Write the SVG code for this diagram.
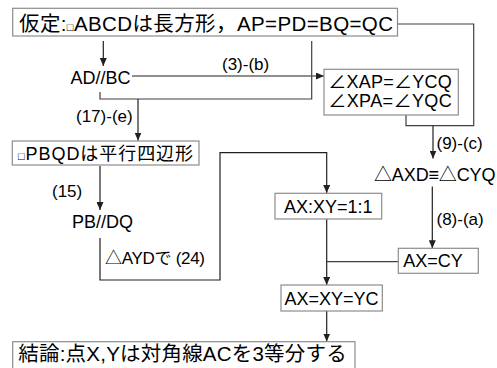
<svg xmlns="http://www.w3.org/2000/svg" width="497" height="368" viewBox="0 0 497 368">
<defs>
<marker id="ah" markerUnits="userSpaceOnUse" markerWidth="8" markerHeight="7" refX="8" refY="3.5" orient="auto">
<path d="M0,0 L8,3.5 L0,7 z" fill="#202020"/>
</marker>
<style>
text{font-family:"Liberation Sans","Noto Sans CJK JP",sans-serif;font-size:18px;fill:#000}
.lbl{font-size:17px}
.big{font-size:20.5px}
.box{fill:#fff;stroke:#8c8c8c;stroke-width:1.2}
.ln{fill:none;stroke:#404040;stroke-width:1.2}
.ar{fill:none;stroke:#202020;stroke-width:1.2;marker-end:url(#ah)}
.sq{font-size:11px}
</style>
</defs>
<rect width="497" height="368" fill="#fff"/>
<g id="connectors">
<polyline class="ln" points="397.5,24 473.7,24 473.7,125.7 406,125.7 406,115"/>
<line class="ar" x1="433" y1="125.7" x2="433" y2="158.5"/>
<line class="ar" x1="103.3" y1="41" x2="103.3" y2="66"/>
<line class="ar" x1="132" y1="76" x2="324" y2="76"/>
<polyline class="ln" points="311.7,41 311.7,99 100,99 100,92"/>
<line class="ar" x1="138" y1="99" x2="138" y2="140.5"/>
<line class="ar" x1="100" y1="166" x2="100" y2="210"/>
<polyline class="ar" points="100,238 100,280 220,280 220,152.7 326.7,152.7 326.7,193"/>
<line class="ar" x1="326.7" y1="219" x2="326.7" y2="285"/>
<line class="ln" x1="398.3" y1="261.7" x2="326.7" y2="261.7"/>
<line class="ar" x1="432.3" y1="186.5" x2="432.3" y2="248.3"/>
<line class="ar" x1="326.7" y1="311" x2="326.7" y2="341.5"/>
<text class="lbl" x="222" y="70">(3)-(b)</text>
<text class="lbl" x="76" y="122">(17)-(e)</text>
<text class="lbl" x="52" y="197">(15)</text>
<text class="lbl" x="105" y="264" textLength="100">△AYDで (24)</text>
<text class="lbl" x="436.5" y="149">(9)-(c)</text>
<text class="lbl" x="436.5" y="225">(8)-(a)</text>
</g>
<g id="n-assumption">
<rect class="box" x="12.7" y="8.3" width="384.8" height="27.7"/>
<text class="big" x="19" y="30.5" textLength="374">仮定:<tspan class="sq">□</tspan>ABCDは長方形，AP=PD=BQ=QC</text>
</g>
<g id="n-adbc">
<text x="70.5" y="84.3">AD//BC</text>
</g>
<g id="n-angles">
<rect class="box" x="324" y="69.3" width="134.3" height="45.7"/>
<text x="328.3" y="88" textLength="123.4">∠XAP=∠YCQ</text>
<text x="328.3" y="107" textLength="123.4">∠XPA=∠YQC</text>
</g>
<g id="n-pbqd">
<rect class="box" x="12.3" y="141" width="186.7" height="24"/>
<text x="18" y="160" textLength="175"><tspan class="sq">□</tspan>PBQDは平行四辺形</text>
</g>
<g id="n-pbdq">
<text x="72" y="228.3">PB//DQ</text>
</g>
<g id="n-congruent">
<text x="374" y="180.7" textLength="121.5">△AXD≡△CYQ</text>
</g>
<g id="n-ratio">
<rect class="box" x="275" y="193.3" width="106.7" height="25.7"/>
<text x="328.3" y="212.5" text-anchor="middle">AX:XY=1:1</text>
</g>
<g id="n-axcy">
<rect class="box" x="398.3" y="248.3" width="80" height="25"/>
<text x="403.3" y="267">AX=CY</text>
</g>
<g id="n-axxy">
<rect class="box" x="281" y="285" width="101.3" height="26"/>
<text x="331.6" y="304.5" text-anchor="middle">AX=XY=YC</text>
</g>
<g id="n-conclusion">
<rect class="box" x="12.7" y="341.7" width="342.3" height="30"/>
<text class="big" x="18.3" y="361" textLength="328.4">結論:点X,Yは対角線ACを3等分する</text>
</g>
</svg>
